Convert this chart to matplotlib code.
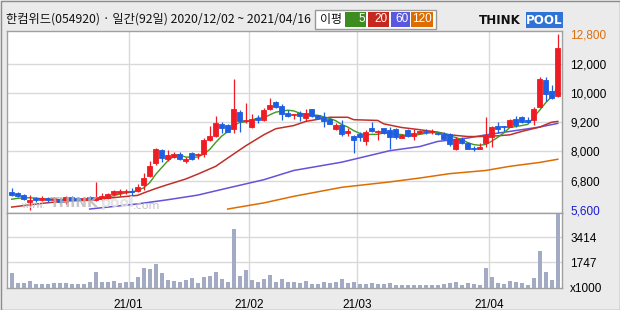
import matplotlib
matplotlib.use('Agg')
import matplotlib.pyplot as plt
from matplotlib import font_manager
from matplotlib.patches import Rectangle

# 한컴위드 일봉 2020/12/02 ~ 2021/04/16 (92 trading days)
opens = [6340, 6300, 6200, 5940, 6090, 6010, 6080, 5990, 6050, 5940,
         6130, 6080, 6020, 6150, 6020, 6060, 6090, 6270, 6300, 6320,
         6390, 6360, 6610, 7000, 7520, 8070, 7700, 7770, 7890, 7590,
         7930, 7840, 7880, 8480, 8630, 9130, 9080, 8920, 9620, 9240,
         9020, 9350, 9300, 9720, 10030, 9870, 9590, 9490, 9590, 9390,
         9730, 9490, 9430, 9320, 8930, 9090, 8750, 8650, 8710, 8440,
         8970, 8780, 8960, 8890, 8920, 8570, 8890, 8650, 8760, 8830,
         8780, 8750, 8720, 8710, 8120, 8520, 8340, 8140, 8120, 8340,
         8590, 9050, 9050, 9020, 9320, 9430, 9270, 9300, 9840, 10930,
         10490, 10280]
highs = [6500, 6320, 6270, 6230, 6130, 6160, 6120, 6130, 6080, 6160,
         6160, 6120, 6120, 6160, 6730, 6300, 6300, 6430, 6470, 6460,
         6510, 6680, 7120, 7590, 8150, 8120, 8040, 7960, 7970, 7790,
         7970, 7930, 8530, 9060, 9460, 9200, 9120, 10970, 9700, 9990,
         9540, 9500, 9760, 10200, 10070, 9940, 9700, 9540, 9640, 9730,
         9750, 9510, 9610, 9390, 9160, 9300, 8940, 8680, 8800, 8890,
         9190, 8860, 8980, 9010, 8960, 8710, 8930, 8920, 8890, 8930,
         8930, 8780, 8780, 8750, 8590, 8590, 8380, 8230, 8340, 9400,
         9060, 9190, 9050, 9320, 9460, 9460, 9430, 9820, 11030, 11030,
         10730, 12800]
lows = [6160, 6130, 6000, 5600, 5910, 5950, 5930, 5910, 5890, 5860,
        5980, 5980, 5980, 6000, 5980, 5950, 6060, 6190, 6190, 6260,
        6160, 6320, 6430, 6950, 7460, 7550, 7590, 7730, 7660, 7520,
        7630, 7710, 7790, 8410, 8590, 8750, 8780, 8750, 8780, 9160,
        8980, 9160, 9250, 9680, 9800, 9300, 9430, 9320, 9230, 9230,
        9430, 9320, 9020, 9120, 8860, 8650, 8650, 7930, 8440, 8270,
        8780, 8480, 8720, 8110, 8510, 8550, 8610, 8480, 8720, 8720,
        8710, 8670, 8480, 8240, 8040, 8310, 8080, 8020, 8110, 8200,
        8200, 8750, 8820, 9000, 9020, 9160, 9170, 9090, 9820, 10070,
        10140, 10250]
closes = [6230, 6160, 6050, 6020, 6000, 6090, 6000, 6080, 5940, 6130,
          6020, 6020, 6080, 6040, 6150, 6160, 6240, 6360, 6360, 6390,
          6340, 6530, 6930, 7410, 8100, 7750, 7840, 7900, 7690, 7690,
          7700, 7890, 8470, 8640, 9170, 8980, 8800, 9730, 9250, 9300,
          9320, 9270, 9700, 9910, 9840, 9550, 9470, 9540, 9470, 9570,
          9470, 9350, 9230, 9140, 9090, 8710, 8820, 8480, 8590, 8800,
          8820, 8820, 8750, 8590, 8590, 8680, 8650, 8760, 8820, 8780,
          8820, 8710, 8520, 8300, 8510, 8340, 8120, 8110, 8190, 8670,
          9000, 8930, 9010, 9270, 9080, 9210, 9190, 9750, 10980, 10360,
          10180, 12250]
# 거래량 (x1000)
volumes = [1030, 357, 357, 491, 290, 290, 290, 357, 357, 357,
           290, 290, 290, 424, 1097, 424, 424, 491, 357, 424,
           424, 763, 1366, 1299, 1635, 1030, 538, 491, 424, 538,
           673, 357, 763, 828, 1097, 606, 424, 3991, 828, 1211,
           538, 424, 606, 895, 424, 606, 424, 424, 357, 491,
           290, 290, 424, 357, 424, 606, 357, 424, 290, 290,
           357, 290, 290, 357, 222, 222, 222, 222, 222, 222,
           222, 222, 290, 357, 424, 222, 357, 290, 222, 1366,
           763, 357, 290, 491, 424, 357, 222, 696, 2511, 1097,
           515, 4980]

# 이동평균선
ma5 = [6040, 6080, 6100, 6100, 6090, 6060, 6030, 6040, 6020, 6050,
       6030, 6040, 6040, 6060, 6060, 6090, 6130, 6190, 6250, 6300,
       6340, 6400, 6510, 6720, 7060, 7340, 7610, 7800, 7860, 7770,
       7760, 7770, 7890, 8080, 8370, 8630, 8810, 9060, 9190, 9210,
       9280, 9370, 9370, 9500, 9610, 9650, 9690, 9660, 9570, 9520,
       9500, 9480, 9420, 9350, 9260, 9100, 9000, 8850, 8740, 8680,
       8700, 8700, 8760, 8760, 8710, 8690, 8650, 8650, 8700, 8740,
       8770, 8780, 8730, 8630, 8570, 8480, 8360, 8280, 8250, 8290,
       8420, 8580, 8760, 8980, 9020, 9060, 9110, 9400, 9700, 10000,
       10250, 10630]
ma20_day = [0, 2, 5, 9, 13, 15, 18, 21, 22, 24, 26, 29, 31, 34, 36, 39, 42,
            44, 47, 49, 53, 56, 57, 61, 62, 65, 68, 71, 73, 76, 78, 81, 83,
            85, 88, 90, 91]
ma20 = [5720, 5780, 5870, 5970, 6000, 6060, 6130, 6200, 6300, 6480, 6640,
        6870, 7070, 7390, 7730, 8230, 8680, 8930, 9060, 9230, 9400, 9400,
        9300, 9270, 9130, 8980, 8890, 8790, 8680, 8610, 8610, 8640, 8680,
        8820, 9000, 9200, 9230]
ma60_day = [13, 21, 26, 31, 36, 42, 47, 55, 63, 68, 71, 76, 79, 83, 88, 91]
ma60 = [5640, 5850, 6020, 6210, 6500, 6840, 7220, 7560, 8030, 8200, 8410,
        8550, 8680, 8820, 9000, 9150]
ma120_day = [36, 42, 47, 55, 63, 68, 73, 79, 83, 88, 91]
ma120 = [5640, 5890, 6160, 6530, 6750, 6910, 7090, 7220, 7390, 7550, 7680]

price_ticks = [5600, 6800, 8000, 9200, 10400, 11600, 12800]
price_labels = ['5,600', '6,800', '8,000', '9,200', '10,000', '12,000', '12,800']
vol_ticks = [0, 1747, 3414]
vol_labels = ['x1000', '1747', '3414']
month_pos = [19.5, 39.5, 57.5, 79.5]
month_labels = ['21/01', '21/02', '21/03', '21/04']

W, H = 620, 310
UP, DOWN = '#ee1c25', '#1e5ee0'
GRID = '#d9d9d9'
FRAME = '#a0a0a0'

names = {f.name for f in font_manager.fontManager.ttflist}
if 'Liberation Sans Narrow' in names:
    num_font, num_size = 'Liberation Sans Narrow', 10.5
else:
    num_font, num_size = 'Liberation Sans', 8.5
KR = ['Noto Sans CJK KR', 'DejaVu Sans']


def px(x, y):
    return x / W, 1 - y / H


fig = plt.figure(figsize=(W / 100, H / 100), dpi=100, facecolor='#ebebeb')
ax = fig.add_axes([7 / W, 1 - 213 / H, 555 / W, 182 / H])
axv = fig.add_axes([7 / W, 1 - 288 / H, 555 / W, 75 / H], sharex=ax)

days = list(range(len(closes)))
colors = [UP if c >= o else DOWN for o, c in zip(opens, closes)]
bottoms = [min(o, c) for o, c in zip(opens, closes)]
heights = [abs(c - o) for o, c in zip(opens, closes)]

# moving averages
ax.plot(ma120_day, ma120, color='#dd6d00', lw=1.1, zorder=2)
ax.plot(ma60_day, ma60, color='#6552d9', lw=1.1, zorder=2)
ax.plot(ma20_day, ma20, color='#c0302a', lw=1.1, zorder=2)
ax.plot(days, ma5, color='#3e9a1c', lw=1.0, zorder=2)

# candles
ax.vlines(days, lows, highs, colors=colors, lw=0.9, zorder=3)
ax.bar(days, heights, bottom=bottoms, width=0.82, color=colors,
       edgecolor=colors, linewidth=0.6, zorder=4)

ax.set_xlim(-0.78, 91.7)
ax.set_ylim(5477, 12935)
ax.set_yticks(price_ticks)
ax.set_yticklabels(price_labels)
ax.set_xticks(month_pos)
ax.tick_params(axis='x', length=0, labelbottom=False)
ax.yaxis.tick_right()
ax.tick_params(axis='y', length=0, pad=6, labelsize=num_size)
for lab in ax.get_yticklabels():
    lab.set_fontfamily(num_font)
ax.get_yticklabels()[0].set_color('#1a1ad0')
ax.get_yticklabels()[-1].set_color('#d9700f')
ax.grid(True, color=GRID, lw=1)
ax.set_axisbelow(True)
glines = ax.get_ygridlines()
glines[0].set_visible(False)
glines[-1].set_visible(False)

# volume
axv.bar(days, volumes, width=0.7, color='#a3abc4', zorder=3)
axv.set_ylim(0, 5050)
axv.set_yticks(vol_ticks)
axv.set_yticklabels(vol_labels)
axv.yaxis.tick_right()
axv.tick_params(axis='y', length=0, pad=6, labelsize=num_size)
axv.set_xticks(month_pos)
axv.set_xticklabels(month_labels)
axv.tick_params(axis='x', length=0, pad=8, labelsize=num_size)
for lab in axv.get_yticklabels() + axv.get_xticklabels():
    lab.set_fontfamily(num_font)
axv.grid(True, color=GRID, lw=1)
axv.set_axisbelow(True)
axv.get_ygridlines()[0].set_visible(False)

for a in (ax, axv):
    a.set_facecolor('white')
    for s in a.spines.values():
        s.set_color(FRAME)
        s.set_linewidth(1)

# watermark
fig.text(*px(22, 206), 'www.', fontsize=6.5, color='#c4c4c4', va='center', zorder=5)
fig.text(*px(50, 203), 'THINK', fontsize=10, fontweight='bold', color='#b8b8b8',
         alpha=0.8, va='center', zorder=5)
fig.text(*px(101, 203), 'pool', fontsize=10, fontweight='bold', color='#e2e2e2',
         alpha=0.9, va='center', zorder=5)
fig.text(*px(133, 206), '.com', fontsize=8, color='#c4c4c4', va='center', zorder=5)

# header
fig.text(*px(6, 19), '한컴위드(054920) · 일간(92일) 2020/12/02 ~ 2021/04/16',
         family=KR, fontsize=8.8, va='center', color='#111111')
fig.add_artist(Rectangle(px(315, 29), 121 / W, 19 / H, transform=fig.transFigure,
                         facecolor='white', edgecolor='#999999', lw=1))
fig.text(*px(320, 19.5), '이평', family=KR, fontsize=8.6, va='center', color='#111111')
legend_boxes = [(345, 366, '5', '#3d8c1f'), (368, 389, '20', '#c4281f'),
                (391, 410, '60', '#5b58e0'), (411, 433, '120', '#dd6d00')]
for x0, x1, txt, col in legend_boxes:
    fig.add_artist(Rectangle(px(x0, 27), (x1 - x0) / W, 15 / H,
                             transform=fig.transFigure, facecolor=col, lw=0))
    fig.text(*px(x1 - 1, 19.5), txt, fontsize=num_size, family=num_font,
             color='white', ha='right', va='center')

# logo
fig.text(*px(479, 20), 'THINK', fontsize=8.6, fontweight='heavy', color='#111111',
         va='center')
fig.add_artist(Rectangle(px(526, 28), 37 / W, 16 / H, transform=fig.transFigure,
                         facecolor='#2f72d8', lw=0))
fig.text(*px(544.5, 20), 'POOL', fontsize=8.6, fontweight='heavy', color='white',
         ha='center', va='center')

# outer frame
fig.add_artist(Rectangle((0.5 / W, 0.5 / H), (W - 1) / W, (H - 1) / H,
                         transform=fig.transFigure, fill=False,
                         edgecolor='#8c8c8c', lw=1))

fig.savefig('out.png', dpi=100, facecolor=fig.get_facecolor())
